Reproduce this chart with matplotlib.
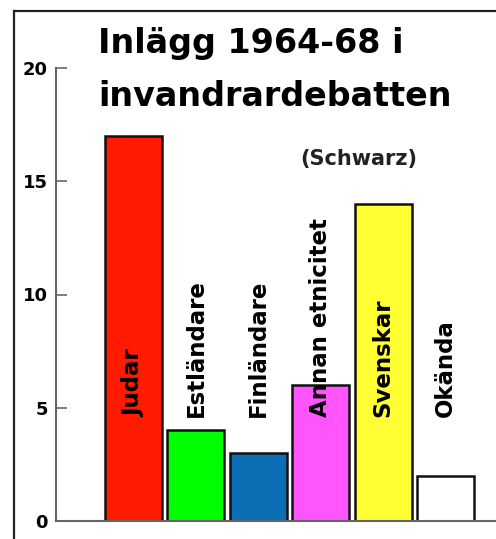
import matplotlib
matplotlib.use("Agg")
import matplotlib.pyplot as plt
from matplotlib.lines import Line2D

# data
categories = ["Judar", "Estländare", "Finländare", "Annan etnicitet", "Svenskar", "Okända"]
values = [17, 4, 3, 6, 14, 2]
colors = ["#ff1a00", "#00ff00", "#0a6fb5", "#ff55ff", "#ffff33", "#ffffff"]
yticks = [0, 5, 10, 15, 20]

W, H = 496, 539
fig = plt.figure(figsize=(W / 100, H / 100), dpi=100)
fig.patch.set_facecolor("white")

# axes placed in pixel terms
left, bottom, top = 56, 521, 68
ax = fig.add_axes([left / W, 1 - bottom / H, 1 - left / W, (bottom - top) / H])

x = list(range(len(categories)))
ax.bar(x, values, width=0.913, color=colors, edgecolor="#111111", linewidth=1.8, zorder=2)

# rotated labels inside / above bars
for xi, name in zip(x, categories):
    ax.text(xi, 4.6, name, rotation=90, ha="center", va="bottom",
            fontsize=16.5, fontweight="bold", color="black", zorder=3)

ax.set_xlim(-1.242, 5.81)
ax.set_ylim(0, 20)
ax.set_yticks(yticks)
ax.set_xticks([])
ax.tick_params(axis="y", direction="in", length=8, width=1.2, color="#666666",
               pad=6, labelsize=13)
for lab in ax.get_yticklabels():
    lab.set_fontweight("bold")
for side in ["top", "right"]:
    ax.spines[side].set_visible(False)
for side in ["left", "bottom"]:
    ax.spines[side].set_color("#666666")
    ax.spines[side].set_linewidth(1.5)

# title in two lines
fig.text(98 / W, 1 - 53 / H, "Inlägg 1964-68 i", fontsize=24, fontweight="bold",
         va="baseline", ha="left")
fig.text(98 / W, 1 - 106 / H, "invandrardebatten", fontsize=24, fontweight="bold",
         va="baseline", ha="left")
fig.text(300 / W, 1 - 165 / H, "(Schwarz)", fontsize=15, fontweight="bold",
         va="baseline", ha="left", color="#222222")

# outer frame (cut off on right and bottom)
fig.add_artist(Line2D([14 / W, 14 / W], [0, 1 - 11 / H], color="#222222", linewidth=1.6))
fig.add_artist(Line2D([14 / W, 1], [1 - 11 / H, 1 - 11 / H], color="#222222", linewidth=1.6))

fig.savefig("out.png", dpi=100)
